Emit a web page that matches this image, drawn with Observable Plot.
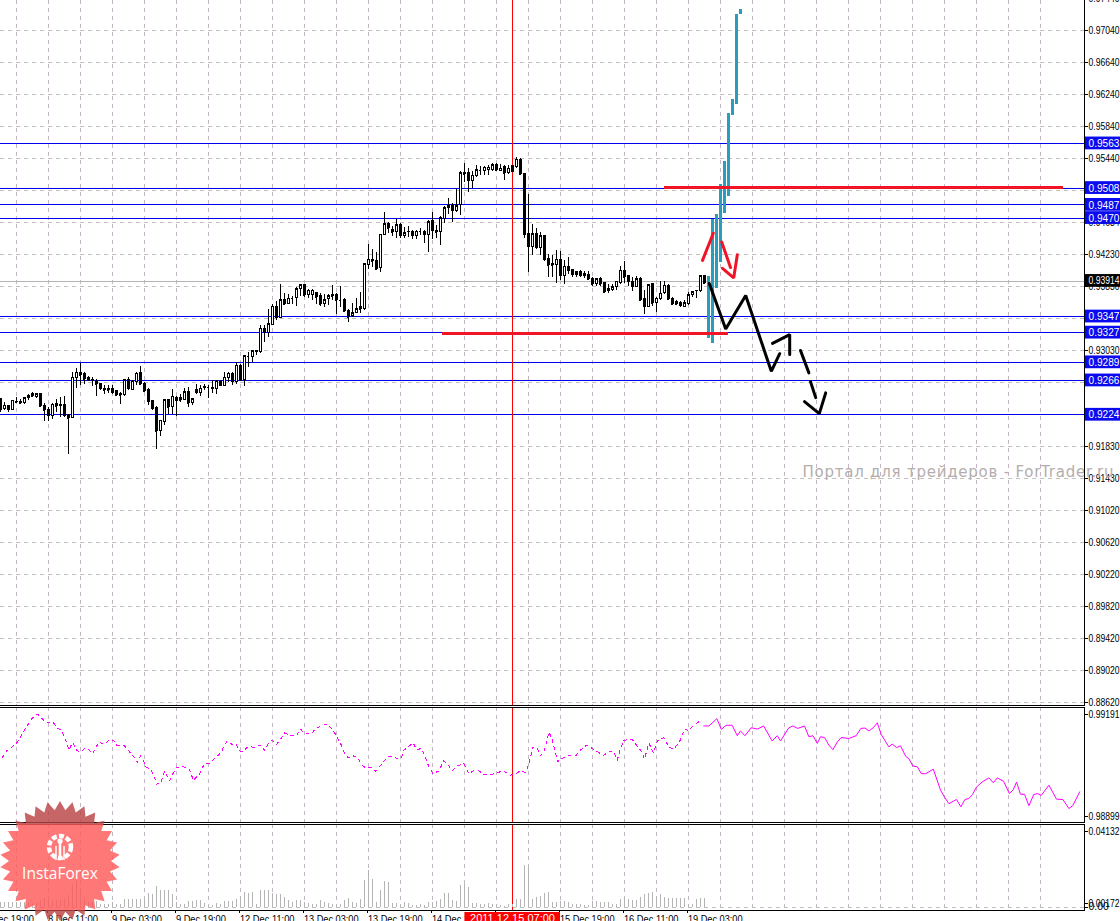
<!DOCTYPE html>
<html><head><meta charset="utf-8">
<script src="https://cdn.jsdelivr.net/npm/d3@7"></script>
<script src="https://cdn.jsdelivr.net/npm/@observablehq/plot@0.6"></script>
<style>
html,body{margin:0;padding:0;background:#fff;overflow:hidden}
#chart{position:relative;width:1120px;height:921px;overflow:hidden;background:#fff}
#chart svg{position:absolute;left:0;background:transparent;max-width:none}
</style></head><body><div id="chart"></div>
<script>
// Candles, in pips (price x 10000), one entry per bar
const openPips=[9242,9230,9233,9228,9239,9239,9237,9243,9248,9245,
9248,9234,9228,9221,9236,9235,9235,9221,9218,9269,
9275,9273,9269,9266,9264,9261,9255,9255,9255,9252,
9248,9247,9266,9254,9264,9275,9261,9253,9240,9231,
9202,9214,9241,9232,9244,9243,9241,9251,9237,9254,
9250,9256,9257,9256,9255,9264,9259,9269,9274,9264,
9284,9266,9295,9295,9301,9301,9330,9325,9335,9358,
9344,9366,9361,9368,9369,9380,9385,9373,9373,9375,
9371,9361,9367,9372,9372,9366,9366,9353,9346,9350,
9357,9355,9410,9417,9415,9406,9448,9461,9454,9451,
9460,9447,9451,9452,9447,9452,9451,9448,9465,9453,
9451,9468,9481,9484,9478,9485,9526,9526,9516,9522,
9529,9528,9529,9529,9536,9528,9533,9526,9534,9533,
9542,9524,9449,9433,9449,9432,9446,9418,9411,9410,
9417,9397,9408,9404,9401,9401,9399,9398,9393,9386,
9392,9387,9377,9379,9382,9387,9403,9396,9389,9383,
9393,9367,9358,9386,9362,9367,9375,9384,9367,9364,
9362,9357,9361,9372,9377,9377,9396];
const highPips=[9242,9238,9233,9241,9244,9242,9244,9248,9251,9249,
9248,9236,9231,9236,9242,9244,9245,9223,9276,9280,
9287,9276,9270,9269,9267,9261,9259,9259,9259,9253,
9251,9267,9269,9265,9276,9283,9263,9255,9240,9233,
9215,9242,9242,9254,9245,9248,9256,9257,9242,9261,
9259,9261,9259,9266,9265,9265,9276,9276,9276,9288,
9286,9297,9300,9303,9303,9334,9334,9355,9361,9364,
9386,9374,9373,9371,9382,9386,9386,9380,9379,9376,
9374,9373,9373,9385,9374,9383,9368,9355,9362,9368,
9376,9412,9436,9430,9426,9448,9476,9464,9458,9467,
9462,9457,9458,9453,9454,9456,9453,9466,9476,9460,
9471,9483,9493,9487,9505,9527,9537,9531,9527,9535,
9534,9534,9535,9537,9537,9536,9535,9535,9535,9545,
9543,9525,9499,9461,9456,9451,9447,9423,9422,9428,
9427,9416,9420,9405,9402,9403,9402,9402,9394,9393,
9394,9387,9386,9386,9390,9408,9414,9397,9395,9396,
9395,9378,9386,9387,9369,9389,9389,9386,9370,9366,
9365,9366,9376,9377,9378,9397,9396];
const lowPips=[9225,9228,9225,9228,9236,9235,9235,9241,9245,9243,
9233,9214,9214,9217,9225,9219,9219,9173,9218,9255,
9259,9261,9264,9258,9245,9253,9248,9249,9248,9246,
9235,9245,9253,9253,9259,9259,9251,9234,9228,9179,
9195,9209,9223,9223,9220,9238,9240,9232,9234,9248,
9245,9253,9243,9249,9248,9258,9259,9263,9259,9260,
9264,9258,9282,9288,9297,9299,9313,9319,9334,9341,
9343,9359,9361,9361,9358,9371,9370,9368,9366,9361,
9358,9357,9359,9366,9348,9357,9351,9338,9345,9349,
9349,9353,9405,9407,9404,9401,9447,9450,9446,9444,
9443,9443,9445,9442,9442,9447,9437,9426,9442,9443,
9435,9462,9474,9464,9476,9472,9514,9501,9506,9520,
9522,9522,9522,9527,9527,9527,9516,9524,9526,9531,
9522,9443,9401,9422,9430,9422,9415,9394,9394,9387,
9391,9386,9398,9394,9395,9394,9393,9391,9383,9383,
9383,9375,9375,9377,9378,9386,9387,9383,9377,9382,
9365,9348,9357,9358,9351,9366,9373,9366,9359,9359,
9357,9357,9359,9370,9368,9376,9386];
const closePips=[9228,9234,9229,9240,9238,9237,9243,9246,9246,9248,
9233,9228,9221,9235,9233,9234,9221,9218,9269,9275,
9272,9267,9265,9265,9261,9255,9253,9253,9250,9247,
9247,9266,9255,9264,9274,9261,9252,9239,9230,9202,
9215,9241,9232,9245,9240,9241,9251,9237,9242,9250,
9255,9257,9257,9255,9264,9259,9269,9274,9264,9284,
9265,9296,9295,9302,9302,9330,9325,9336,9358,9344,
9366,9361,9368,9368,9380,9385,9372,9378,9378,9370,
9361,9366,9371,9371,9366,9366,9352,9345,9350,9355,
9355,9411,9417,9415,9405,9448,9461,9456,9451,9460,
9447,9450,9452,9447,9452,9452,9448,9464,9453,9451,
9469,9481,9484,9478,9484,9525,9524,9516,9522,9529,
9529,9532,9532,9535,9529,9531,9525,9531,9527,9542,
9524,9448,9433,9449,9432,9446,9417,9410,9410,9417,
9397,9408,9403,9398,9398,9397,9397,9392,9386,9392,
9386,9376,9380,9382,9389,9403,9395,9389,9383,9392,
9366,9358,9385,9362,9368,9374,9384,9367,9361,9361,
9359,9362,9372,9376,9378,9396,9387];

// Teal hand-drawn bars (bar number, low, high in pips)
const tealBars=[177,178,179,180,181,182,183,184,185];
const tealLow=[9318,9312,9381,9413,9475,9496,9597,9611,9724];
const tealHigh=[9396,9467,9473,9511,9540,9600,9618,9724,9730];

// Support / resistance levels
const levelPrices=[0.95625,0.95066,0.94855,0.94690,0.93456,0.93254,0.92882,0.92655,0.92225];
const levelLabels=["0.9563","0.9508","0.9487","0.9470","0.9347","0.9327","0.9289","0.9266","0.9224"];
const bidPrice=0.93890, bidLabel="0.93914";

// Red horizontal annotations
const redLevelPrice=[0.95069,0.93243];
const redLevelFrom=[166,110.4];
const redLevelTo=[265.6,182];

// Hand-drawn strokes: group, bar, price in pips
const redGroup=[0,0,1,1,2,2,2];
const redBar=[175.4,178.1,180.2,182.4,180.4,183.2,184.1];
const redPips=[9416,9450,9439,9407,9406,9394,9423];
const blackGroup=[0,0,0,0,0,1,1,1,2,2,3,3,4,4,4];
const blackBar=[177.1,181.2,186.2,192.6,194.7,192.9,197.2,197.2,199.9,202,202.4,203.7,200.9,204.6,206.2];
const blackPips=[9387,9330,9372,9277,9299,9312,9323,9298,9303,9275,9264,9244,9239,9224,9250];

// Price axis
const priceTicks=[0.97440,0.97040,0.96640,0.96240,0.95840,0.95440,0.95035,0.94634,0.94230,0.93830,0.93431,0.93030,0.92629,0.92228,0.91830,0.91430,0.91020,0.90620,0.90220,0.89820,0.89420,0.89020,0.88620];

// Indicator: bar position and value (x 100000)
const indicatorBar=[0.3,1.4,2.8,3.9,4.9,5.6,6.4,7.4,8.7,9.3,10.3,11.4,13,14.1,15.1,15.9,16.4,17,17.8,18.1,18.9,19.9,21.2,21.8,23,23.7,24.5,25.9,27,28.2,29.1,30.9,32,33.3,34.1,34.9,35.6,36.2,37.4,38.3,38.8,39.9,40.9,41.6,42.2,43,43.9,45.3,46.8,47.4,48.1,49.7,50.5,51.2,52,52.8,54.1,55.1,55.8,56.6,57.8,58.9,59.5,60.3,62,63.4,64.8,65.9,66.8,67.8,68.9,69.9,
70.9,72.4,73.9,74.9,75.9,77.6,78.6,79.9,81.6,82.6,83.7,84.5,85.2,85.7,86.8,88.2,89.2,90.1,91.2,92.6,93.7,95.3,96.6,97.7,99.1,100.1,100.7,102,103.1,103.9,105.1,105.9,107,108,109.5,110.7,111.6,112.8,114.1,115.7,117,118.1,119.5,120.9,122.4,123.7,125.7,127.2,128.2,129.9,131.2,132,133,134.1,134.9,135.9,137,137.8,138.6,139.2,
139.9,141.2,142.4,143.8,145.1,146.4,147.6,149.1,150.6,152.4,153.2,154.1,154.9,155.7,157.8,159.2,160.2,160.9,162,163.1,164.1,165.7,167,168.2,169.7,170.9,172,173.2,174.5,175.7,177,179,180.1,181.3,182.8,184.1,184.9,186,187.6,189.1,190.7,192.8,194.1,194.9,197,198,199.2,200.9,202,203,204.1,
204.9,205.9,207,208,209.1,210.1,212,213.8,215,216,217,218.1,219.1,220.1,222,222.8,223.9,224.9,226.2,227,228,229.1,230.1,231.2,233.1,234.9,236,237,238.9,240,241,242,242.9,243.9,245.3,247,248.1,249.1,250.7,252.1,253.1,253.9,254.9,255.9,257,258.2,259.1,260.1,262,263.9,265.5,267,268,269.7];
const indicatorValue=[99066,99086,99098,99108,99127,99141,99155,99175,99189,99191,99179,99168,99170,99151,99146,99127,99112,99088,99109,99108,99088,99084,99095,99091,99079,99095,99112,99105,99117,99117,99101,99101,99086,99069,99053,99072,99060,99041,99033,99017,98991,98993,99028,99014,99002,99021,99039,99041,99039,99026,99002,99021,99041,99052,99050,99057,99072,99082,99103,99114,99105,99105,99088,99084,99100,99096,99103,99088,99106,99117,99105,99120,
99138,99130,99130,99149,99136,99135,99149,99158,99164,99152,99133,99117,99101,99084,99067,99072,99067,99047,99038,99038,99028,99050,99069,99071,99064,99066,99088,99100,99109,99090,99093,99074,99041,99021,99029,99058,99050,99029,99043,99050,99021,99029,99029,99018,99018,99023,99029,99017,99018,99029,99024,99050,99098,99093,99072,99088,99141,99120,99084,99055,
99064,99069,99074,99074,99091,99103,99095,99084,99074,99086,99084,99060,99093,99117,99120,99098,99084,99063,99109,99081,99115,99125,99098,99091,99114,99149,99145,99160,99170,99158,99158,99179,99148,99160,99160,99130,99144,99130,99153,99149,99158,99115,99130,99115,99153,99158,99151,99158,99127,99130,99108,
99127,99125,99103,99090,99112,99125,99122,99130,99151,99152,99144,99153,99167,99133,99098,99106,99096,99101,99071,99064,99043,99041,99021,99021,99034,98974,98952,98935,98947,98926,98947,98950,98961,98983,98997,99009,98995,99009,98999,98964,98975,98997,98962,98962,98929,98961,98964,98959,98988,98948,98947,98921,98930,98969];
const indicatorTicks=[0.99191,0.98899];
const solidFromBar=175.7;

// Volume, one entry per bar
const volumeValue=[.0027,.0027,.0027,.0027,.0027,.0027,.0027,.0022,.0022,.0022,
.0038,.0049,.0038,.0038,.0038,.0044,.0044,.0066,.0126,.0148,
.0093,.0044,.0027,.0027,.0033,.0016,.0016,.0016,.0027,.0016,
.0016,.0044,.0044,.0044,.0044,.0044,.0044,.0077,.0071,.0115,
.0088,.0093,.0093,.0071,.0027,.0016,.0016,.0033,.0033,.0038,
.0038,.0022,.0005,.0011,.0022,.0016,.0033,.0033,.0033,.0044,
.0055,.0082,.0077,.0082,.0016,.0088,.0088,.0088,.0077,.0071,
.0071,.0055,.0038,.0027,.0038,.0038,.0027,.0022,.0016,.0016,
.0038,.0027,.0022,.0016,.0011,.0016,.0038,.0049,.0027,.0022,
.0044,.0148,.0202,.0153,.0027,.0093,.0142,.0137,.0022,.0022,
.0011,.0027,.0022,.0011,.0011,.0016,.0011,.0027,.0027,.0033,
.0044,.0077,.0077,.0038,.0033,.0120,.0131,.0109,.0022,.0022,
.0016,.0016,.0022,.0016,.0016,.0011,.0005,.0016,.0016,.0044,
.0044,.0230,.0224,.0044,.0055,.0060,.0077,.0082,.0027,.0027,
.0033,.0033,.0027,.0016,.0016,.0016,.0011,.0011,.0033,.0033,
.0027,.0027,.0027,.0016,.0016,.0044,.0055,.0044,.0038,.0038,
.0055,.0071,.0077,.0082,.0060,.0071,.0055,.0049,.0049,.0049,
.0049,.0049,.0016,.0016,.0044,.0049,.0049];
const volumeTicks=[0.04132,0.00172,0];

// Time axis
const timeTickBars=[-4,12,28,44,60,76,92,108,124,140,156,172];
const timeTickLabels=["7 Dec 19:00","8 Dec 11:00","9 Dec 03:00","9 Dec 19:00","12 Dec 11:00","13 Dec 03:00","13 Dec 19:00","14 Dec 11:00","15 Dec 03:00","15 Dec 19:00","16 Dec 11:00","19 Dec 03:00"];
const gridBars=d3.range(4,268,8);
const cursorBar=127.9, cursorLabel="2011.12.15 07:00";
const watermark="Портал для трейдеров - ForTrader.ru";

const FONT="Liberation Sans";
const xScale={type:"linear",domain:[-0.1,270.9],range:[0,1084],axis:null};
const base={width:1120,marginLeft:0,marginRight:36,marginTop:0,style:{background:"transparent"}};
const gridX=Plot.gridX(gridBars,{stroke:"#c4b6c6",strokeOpacity:1,strokeDasharray:"4 4",shapeRendering:"crispEdges"});
const cursor=Plot.ruleX([cursorBar],{stroke:"#ff0000",strokeWidth:1,shapeRendering:"crispEdges"});
const LB0=271.15, LB1=281, LT=271.9;

const bars=openPips.map((o,i)=>({i,o:o/1e4,h:highPips[i]/1e4,l:lowPips[i]/1e4,c:closePips[i]/1e4}));
const teal=tealBars.map((b,k)=>({b,lo:tealLow[k]/1e4,hi:tealHigh[k]/1e4}));
const levels=levelPrices.map((p,k)=>({p,t:levelLabels[k]}));
const reds=redLevelPrice.map((p,k)=>({p,a:redLevelFrom[k],b:redLevelTo[k]}));
const redStrokes=redBar.map((b,k)=>({g:redGroup[k],b,p:redPips[k]/1e4}));
const blackStrokes=blackBar.map((b,k)=>({g:blackGroup[k],b,p:blackPips[k]/1e4}));
const HALF=0.00080;

const main=Plot.plot({...base,height:706,marginBottom:1,
 x:xScale,
 y:{type:"linear",domain:[0.97416,0.88582],range:[0,705],axis:null},
 marks:[
  gridX,
  Plot.gridY(priceTicks,{stroke:"#c2c0bc",strokeOpacity:1,strokeDasharray:"4 4",shapeRendering:"crispEdges"}),
  Plot.axisY(priceTicks,{anchor:"right",label:null,tickSize:3,tickPadding:1,tickFormat:d=>d.toFixed(5),fontFamily:FONT,fontSize:10.5,fill:"#000",shapeRendering:"crispEdges"}),
  Plot.ruleY([bidPrice],{stroke:"#b4b4b4",shapeRendering:"crispEdges"}),
  Plot.ruleY(levelPrices,{stroke:"#0000ee",shapeRendering:"crispEdges"}),
  cursor,
  Plot.ruleX(bars,{x:"i",y1:"l",y2:"h",stroke:"#000",shapeRendering:"crispEdges"}),
  Plot.rect(bars,{x1:d=>d.i-0.25,x2:d=>d.i+0.25,y1:"o",y2:"c",fill:d=>d.c>=d.o?"#fff":"#000",stroke:"#000",shapeRendering:"crispEdges"}),
  Plot.ruleY(bars,{x1:d=>d.i-0.25,x2:d=>d.i+0.25,y:"c",stroke:"#000",shapeRendering:"crispEdges"}),
  Plot.ruleX(teal,{x:"b",y1:"lo",y2:"hi",stroke:"#2a9dbd",strokeWidth:3,shapeRendering:"crispEdges"}),
  Plot.ruleY(reds,{x1:"a",x2:"b",y:"p",stroke:"#f01426",strokeWidth:3,shapeRendering:"crispEdges"}),
  Plot.line(redStrokes,{x:"b",y:"p",z:"g",stroke:"#f01426",strokeWidth:3,strokeLinejoin:"miter"}),
  Plot.line(blackStrokes,{x:"b",y:"p",z:"g",stroke:"#000",strokeWidth:3,strokeLinejoin:"miter"}),
  Plot.text([watermark],{x:()=>200.4,y:()=>0.91502,text:d=>d,textAnchor:"start",fill:"#b5adad",fontFamily:"DejaVu Sans",fontSize:15}),
  Plot.rect(levels,{x1:()=>LB0,x2:()=>LB1,y1:d=>d.p-HALF,y2:d=>d.p+HALF,fill:"#0a0aee"}),
  Plot.text(levels,{x:()=>LT,y:"p",text:"t",textAnchor:"start",fill:"#fff",fontFamily:FONT,fontSize:11.5}),
  Plot.rect([bidPrice],{x1:()=>LB0,x2:()=>LB1,y1:d=>d-HALF+0.00012,y2:d=>d+HALF+0.00012,fill:"#000"}),
  Plot.text([bidLabel],{x:()=>LT,y:()=>bidPrice+0.00012,text:d=>d,textAnchor:"start",fill:"#fff",fontFamily:FONT,fontSize:10.5}),
  Plot.frame({anchor:"right",stroke:"#000"}),
  Plot.frame({anchor:"bottom",stroke:"#000"})
 ]});
main.style.top="0px";

const indicator=indicatorBar.map((b,k)=>({b,v:indicatorValue[k]/1e5}));
const pane2=Plot.plot({...base,height:116,marginBottom:1,
 x:xScale,
 y:{type:"linear",domain:[0.99211,0.98881],range:[0,115],axis:null},
 marks:[
  gridX,cursor,
  Plot.axisY(indicatorTicks,{anchor:"right",label:null,tickSize:3,tickPadding:1,tickFormat:d=>d.toFixed(5),fontFamily:FONT,fontSize:10.5,fill:"#000",shapeRendering:"crispEdges"}),
  Plot.line(indicator.filter(d=>d.b<solidFromBar),{x:"b",y:"v",stroke:"#ff00ff",strokeWidth:1,strokeDasharray:"3 4",shapeRendering:"crispEdges"}),
  Plot.line(indicator.filter(d=>d.b>=solidFromBar),{x:"b",y:"v",stroke:"#ff00ff",strokeWidth:1}),
  Plot.frame({anchor:"right",stroke:"#000"}),
  Plot.frame({anchor:"top",stroke:"#000"}),
  Plot.frame({anchor:"bottom",stroke:"#000"})
 ]});
pane2.style.top="707px";

const volumes=volumeValue.map((v,i)=>({i,v}));
const pane3=Plot.plot({...base,height:97,marginBottom:11,
 x:xScale,
 y:{type:"linear",domain:[0.04515,-0.00186],range:[0,86],axis:null},
 marks:[
  gridX,
  Plot.gridY([0],{stroke:"#c2c0bc",strokeOpacity:1,strokeDasharray:"4 4",shapeRendering:"crispEdges"}),
  cursor,
  Plot.ruleX(volumes,{x:"i",y1:()=>0,y2:"v",stroke:"#b4b4b4",shapeRendering:"crispEdges"}),
  Plot.axisY(volumeTicks,{anchor:"right",label:null,tickSize:3,tickPadding:1,tickFormat:d=>d===0?"0.00":d.toFixed(5),fontFamily:FONT,fontSize:10.5,fill:"#000",shapeRendering:"crispEdges"}),
  Plot.axisX(timeTickBars,{anchor:"bottom",label:null,tickSize:3,tickPadding:2,tickFormat:d=>timeTickLabels[timeTickBars.indexOf(d)],textAnchor:"start",dx:-1,fontFamily:FONT,fontSize:10.5,fill:"#000",shapeRendering:"crispEdges"}),
  Plot.rect([cursorBar],{x1:()=>116,x2:()=>139.9,y1:()=>-0.00295,y2:()=>-0.0079,fill:"#ff0000"}),
  Plot.text([cursorLabel],{x:()=>cursorBar,y:()=>-0.00624,text:d=>d,fill:"#fff",fontFamily:FONT,fontSize:10.5}),
  Plot.frame({anchor:"right",stroke:"#000"}),
  Plot.frame({anchor:"top",stroke:"#000"}),
  Plot.frame({anchor:"bottom",stroke:"#000"})
 ]});
pane3.style.top="824px";

const chart=document.getElementById("chart");
chart.append(main,pane2,pane3);

// Squeeze the terminal-style labels to the widths they have in the picture
chart.querySelectorAll("text").forEach(t=>{
  const s=t.textContent.trim();
  let w=null, adj="spacingAndGlyphs";
  if(/^\d\.\d{5}$/.test(s)) w=31;
  else if(/^\d\.\d{4}$/.test(s)) w=31;
  else if(/Dec \d\d:\d\d$/.test(s)) w=s.length*4.55;
  else if(s===cursorLabel) w=85;
  else if(s===watermark){w=311;adj="spacing";}
  if(w){t.setAttribute("textLength",w);t.setAttribute("lengthAdjust",adj);}
});

// InstaForex badge (decorative logo)
const teeth=30,R=60,r=51,cx=60,cy=61;
const star=d3.range(teeth*2).map(k=>{const a=k*Math.PI/teeth-Math.PI/2,q=k%2?r:R;return [cx+q*Math.cos(a),cy+q*Math.sin(a)];});
const svg=d3.select(chart).append("svg").attr("width",120).attr("height",122).style("top","800px");
const g=svg.append("defs").append("linearGradient").attr("id","bd").attr("x1",0).attr("x2",0).attr("y1",0).attr("y2",1);
[[0,"#b94444"],[.19,"#b94444"],[.19,"#ff5a5a"],[.91,"#ff5a5a"],[.91,"#b94444"],[1,"#b94444"]].forEach(([o,c])=>g.append("stop").attr("offset",o).attr("stop-color",c));
svg.append("polygon").attr("points",star.join(" ")).attr("fill","url(#bd)").attr("fill-opacity",.82);
const w=svg.append("g").attr("fill","none").attr("stroke","#fff");
w.append("circle").attr("cx",60).attr("cy",47).attr("r",11).attr("stroke-width",4.5).attr("stroke-dasharray","5 2.2");
w.append("line").attr("x1",60).attr("x2",60).attr("y1",40).attr("y2",60).attr("stroke-width",2.5);
w.append("line").attr("x1",56).attr("x2",56).attr("y1",46).attr("y2",60).attr("stroke-width",1.5);
w.append("line").attr("x1",64).attr("x2",64).attr("y1",46).attr("y2",60).attr("stroke-width",1.5);
svg.append("circle").attr("cx",60).attr("cy",41).attr("r",2.6).attr("fill","#fff");
svg.append("text").attr("x",60).attr("y",79).attr("text-anchor","middle").attr("fill","#fff").attr("font-family","Open Sans").attr("font-size",15.5).text("InstaForex");
</script></body></html>
